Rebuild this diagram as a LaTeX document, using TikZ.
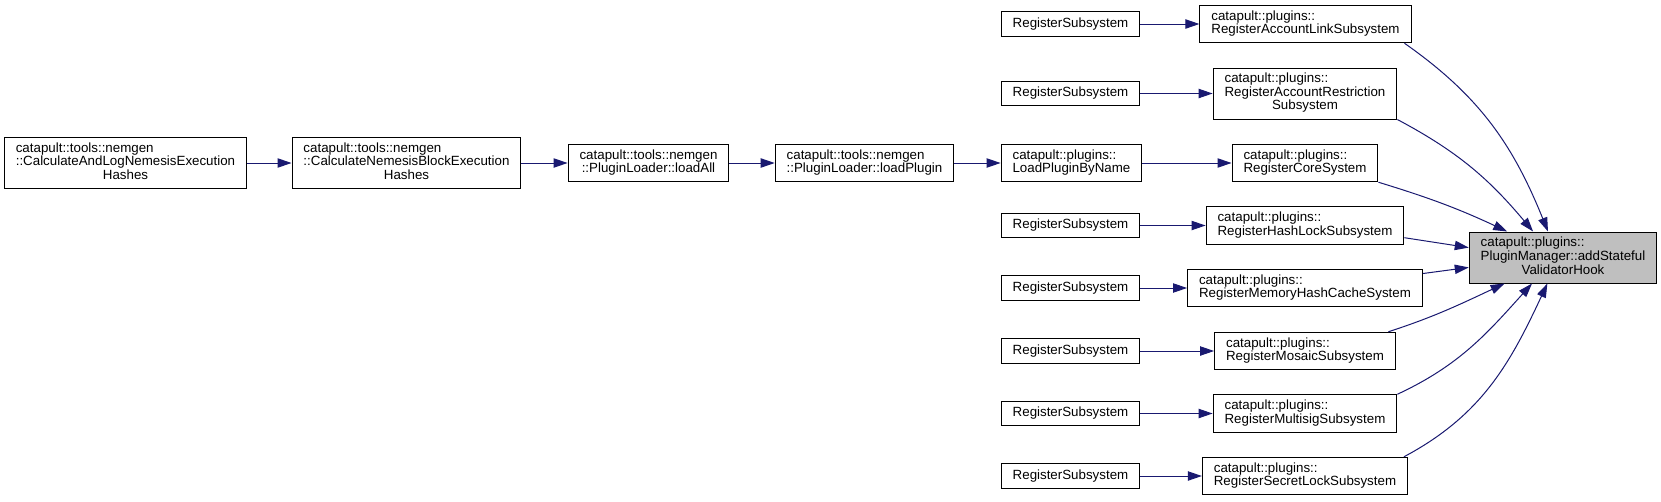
\documentclass[tikz,border=0pt]{standalone}
\usepackage{fontspec}
\setmainfont{Liberation Sans}
\usepackage{xcolor}
\usepackage{tikz}
\usetikzlibrary{arrows.meta}

\definecolor{edgeblue}{HTML}{191970}
\definecolor{hookgray}{HTML}{BFBFBF}
\newcommand{\twoln}[2]{\begin{tabular}{@{}l@{}}#1\\\multicolumn{1}{@{}c@{}}{#2}\end{tabular}}
\newcommand{\threeln}[3]{\begin{tabular}{@{}l@{}}#1\\#2\\\multicolumn{1}{@{}c@{}}{#3}\end{tabular}}

\begin{document}
\begin{tikzpicture}[x=0.75pt, y=0.75pt,
    fn/.style={draw=black, line width=0.75pt, font=\fontsize{10}{10}\selectfont,
        inner xsep=8.6pt, inner ysep=1pt, minimum height=18.4pt},
    fntwo/.style={fn, minimum height=28.1pt},
    fnthree/.style={fn, minimum height=38.25pt},
    hooknode/.style={fnthree, fill=hookgray},
    call/.style={-{Triangle[length=10.5pt,width=7pt]}, edgeblue, line width=0.75pt}]
    \useasboundingbox (0,0) rectangle (1661,-501);
    
    \node[fnthree] (calclog) at (125.5,-163) {\threeln{catapult::tools::nemgen}{::CalculateAndLogNemesisExecution}{Hashes}};
    \node[fnthree] (calcblock) at (406.5,-163) {\threeln{catapult::tools::nemgen}{::CalculateNemesisBlockExecution}{Hashes}};
    \node[fntwo] (loadall) at (648.5,-163) {\twoln{catapult::tools::nemgen}{::PluginLoader::loadAll}};
    \node[fntwo] (loadplugin) at (864.5,-163) {\twoln{catapult::tools::nemgen}{::PluginLoader::loadPlugin}};
    \node[fntwo] (loadbyname) at (1071.5,-163) {\twoln{catapult::plugins::}{LoadPluginByName}};
    
    \node[fntwo] (racl) at (1305.5,-24) {\twoln{catapult::plugins::}{RegisterAccountLinkSubsystem}};
    \node[fnthree] (rares) at (1305,-93.5) {\threeln{catapult::plugins::}{RegisterAccountRestriction}{Subsystem}};
    \node[fntwo] (rcore) at (1305,-163) {\twoln{catapult::plugins::}{RegisterCoreSystem}};
    \node[fntwo] (rhash) at (1305,-225.5) {\twoln{catapult::plugins::}{RegisterHashLockSubsystem}};
    \node[fntwo] (rmem) at (1305,-288) {\twoln{catapult::plugins::}{RegisterMemoryHashCacheSystem}};
    \node[fntwo] (rmosaic) at (1305,-351) {\twoln{catapult::plugins::}{RegisterMosaicSubsystem}};
    \node[fntwo] (rmulti) at (1305,-413.5) {\twoln{catapult::plugins::}{RegisterMultisigSubsystem}};
    \node[fntwo] (rsecret) at (1305,-476) {\twoln{catapult::plugins::}{RegisterSecretLockSubsystem}};
    
    \node[hooknode] (hook) at (1563,-257.5) {\threeln{catapult::plugins::}{PluginManager::addStateful}{ValidatorHook}};
    
    \foreach \callee/\y in {racl/24, rares/93.5, rhash/225.5, rmem/288, rmosaic/351, rmulti/413.5, rsecret/476}
        \node[fn] (rs\callee) at (1070.5,-\y) {RegisterSubsystem};
    
    \draw[call] (calclog) -- (calcblock);
    \draw[call] (calcblock) -- (loadall);
    \draw[call] (loadall) -- (loadplugin);
    \draw[call] (loadplugin) -- (loadbyname);
    \draw[call] (loadbyname) -- (rcore);
    \foreach \callee in {racl, rares, rhash, rmem, rmosaic, rmulti, rsecret}
        \draw[call] (rs\callee) -- (\callee);
    
    \draw[call] (racl.-11) to[out=-35, in=112] (hook.120.5);
    \draw[call] (rares.south east) to[out=-28, in=130] (hook.139.6);
    \draw[call] (rcore.south east) to[out=-17, in=155] (hook.155.5);
    \draw[call] (rhash.-7) -- (hook.174);
    \draw[call] (rmem.7) -- (hook.186);
    \draw[call] (rmosaic.13.4) to[out=18, in=205] (hook.204);
    \draw[call] (rmulti.north east) to[out=25, in=228] (hook.220.4);
    \draw[call] (rsecret.11.5) to[out=28, in=245] (hook.239.5);
\end{tikzpicture}
\end{document}
